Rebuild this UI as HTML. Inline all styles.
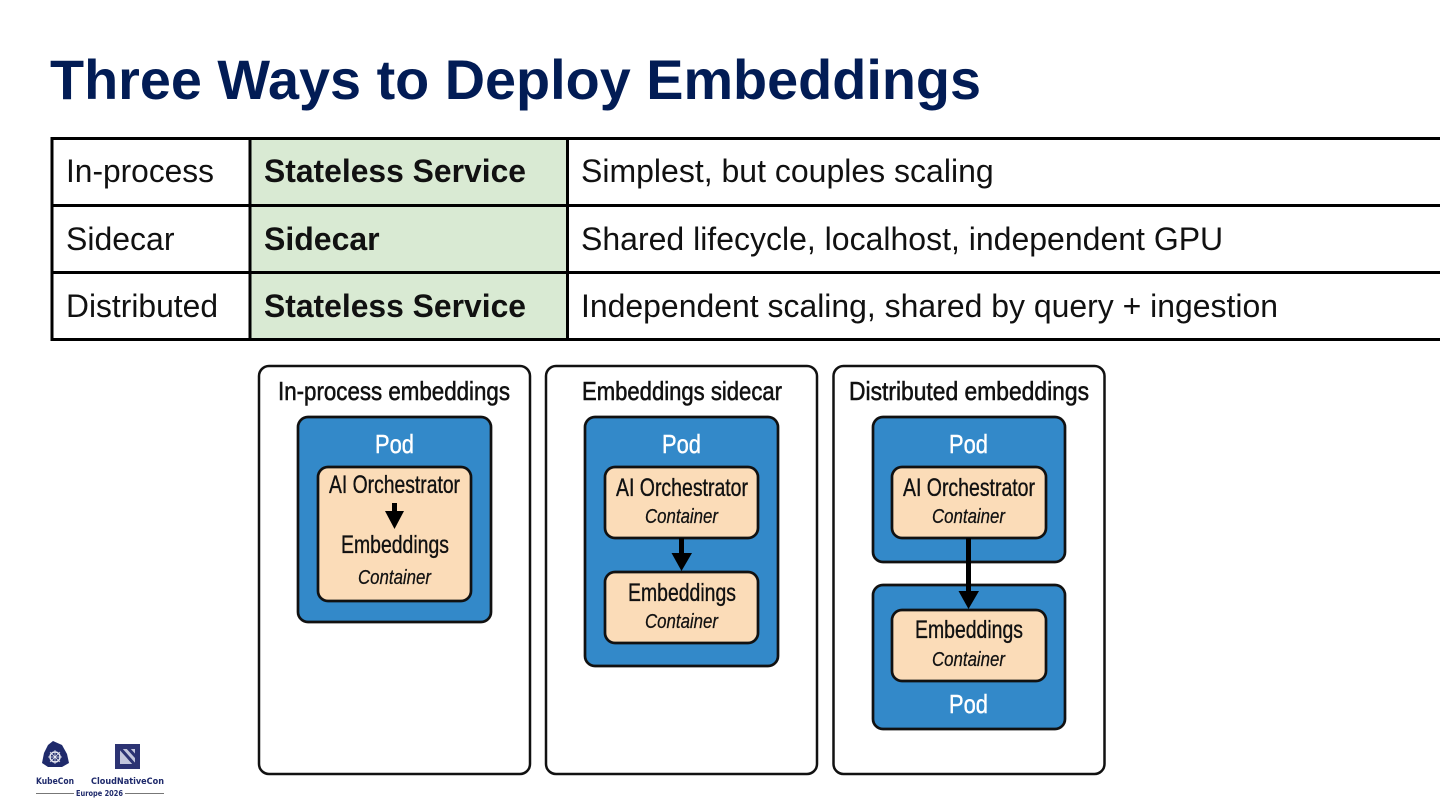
<!DOCTYPE html>
<html>
<head>
<meta charset="utf-8">
<style>
html,body{margin:0;padding:0;background:#fff;width:1440px;height:810px;overflow:hidden}
svg{display:block}
text{font-family:"Liberation Sans",sans-serif}
.h{font-size:26px;fill:#111;stroke:#111;stroke-width:.55px}
.c{font-size:25px;fill:#111;stroke:#111;stroke-width:.35px}
.i{font-size:20px;font-style:italic;fill:#111;stroke:#111;stroke-width:.25px}
.p{font-size:26px;fill:#fff;stroke:#fff;stroke-width:.4px}
.t{font-size:32px;fill:#111}
.b{font-size:32px;font-weight:bold;fill:#111}
.card{fill:#fff;stroke:#111;stroke-width:2.5}
.pod{fill:#3389c9;stroke:#111;stroke-width:2.7}
.box{fill:#fbdcb8;stroke:#111;stroke-width:2.7}
.l{font-family:"DejaVu Sans",sans-serif;font-weight:bold;fill:#1f2a6b}
</style>
</head>
<body>
<svg width="1440" height="810" viewBox="0 0 1440 810" xmlns="http://www.w3.org/2000/svg">
<rect width="1440" height="810" fill="#fff"/>
<text x="50" y="99" font-size="56" font-weight="bold" fill="#021c55" textLength="931" lengthAdjust="spacingAndGlyphs">Three Ways to Deploy Embeddings</text>

<rect x="250" y="138" width="317" height="202" fill="#d9ead3"/>
<g stroke="#000" stroke-width="3" fill="none">
<path d="M50.500 138.500H1440M50.500 205.500H1440M50.500 272.500H1440M50.500 339.500H1440"/>
<path d="M52 137V341M250 137V341M567.500 137V341"/>
</g>
<text class="t" x="66" y="182" textLength="148" lengthAdjust="spacingAndGlyphs">In-process</text>
<text class="t" x="66" y="250">Sidecar</text>
<text class="t" x="66" y="317" textLength="152" lengthAdjust="spacingAndGlyphs">Distributed</text>
<text class="b" x="264" y="182" textLength="262" lengthAdjust="spacingAndGlyphs">Stateless Service</text>
<text class="b" x="264" y="250">Sidecar</text>
<text class="b" x="264" y="317" textLength="262" lengthAdjust="spacingAndGlyphs">Stateless Service</text>
<text class="t" x="581" y="182">Simplest, but couples scaling</text>
<text class="t" x="581" y="250">Shared lifecycle, localhost, independent GPU</text>
<text class="t" x="581" y="317" textLength="697" lengthAdjust="spacingAndGlyphs">Independent scaling, shared by query + ingestion</text>

<rect class="card" x="259" y="366" width="271" height="408" rx="10"/>
<rect class="card" x="546" y="366" width="271" height="408" rx="10"/>
<rect class="card" x="833.500" y="366" width="271" height="408" rx="10"/>

<text class="h" x="278" y="400" textLength="232" lengthAdjust="spacingAndGlyphs">In-process embeddings</text>
<text class="h" x="582" y="400" textLength="200" lengthAdjust="spacingAndGlyphs">Embeddings sidecar</text>
<text class="h" x="849" y="400" textLength="240" lengthAdjust="spacingAndGlyphs">Distributed embeddings</text>

<rect class="pod" x="298" y="417" width="193" height="205" rx="10"/>
<rect class="box" x="318" y="467" width="153" height="134" rx="10"/>
<text class="p" x="375" y="453" textLength="39" lengthAdjust="spacingAndGlyphs">Pod</text>
<text class="c" x="329" y="493" textLength="131" lengthAdjust="spacingAndGlyphs">AI Orchestrator</text>
<path d="M394.500 503V513" stroke="#000" stroke-width="5"/>
<path d="M385 511H404L394.500 529Z" fill="#000"/>
<text class="c" x="341" y="553" textLength="108" lengthAdjust="spacingAndGlyphs">Embeddings</text>
<text class="i" x="358" y="584" textLength="73" lengthAdjust="spacingAndGlyphs">Container</text>

<rect class="pod" x="585" y="417" width="193" height="249" rx="10"/>
<text class="p" x="662" y="453" textLength="39" lengthAdjust="spacingAndGlyphs">Pod</text>
<rect class="box" x="605" y="467" width="153" height="71" rx="10"/>
<rect class="box" x="605" y="572" width="153" height="71" rx="10"/>
<text class="c" x="616" y="496" textLength="132" lengthAdjust="spacingAndGlyphs">AI Orchestrator</text>
<text class="i" x="645" y="523" textLength="73" lengthAdjust="spacingAndGlyphs">Container</text>
<path d="M681.500 538V556" stroke="#000" stroke-width="5"/>
<path d="M671.500 553H692L681.500 571Z" fill="#000"/>
<text class="c" x="628" y="601" textLength="108" lengthAdjust="spacingAndGlyphs">Embeddings</text>
<text class="i" x="645" y="628" textLength="73" lengthAdjust="spacingAndGlyphs">Container</text>

<rect class="pod" x="873" y="417" width="192" height="145" rx="10"/>
<text class="p" x="949" y="453" textLength="39" lengthAdjust="spacingAndGlyphs">Pod</text>
<rect class="box" x="892" y="467" width="154" height="71" rx="10"/>
<text class="c" x="903" y="496" textLength="132" lengthAdjust="spacingAndGlyphs">AI Orchestrator</text>
<text class="i" x="932" y="523" textLength="73" lengthAdjust="spacingAndGlyphs">Container</text>
<rect class="pod" x="873" y="585" width="192" height="144" rx="10"/>
<rect class="box" x="892" y="610" width="154" height="71" rx="10"/>
<path d="M968.500 538V595" stroke="#000" stroke-width="5"/>
<path d="M958.500 591H979L968.500 609Z" fill="#000"/>
<text class="c" x="915" y="638" textLength="108" lengthAdjust="spacingAndGlyphs">Embeddings</text>
<text class="i" x="932" y="666" textLength="73" lengthAdjust="spacingAndGlyphs">Container</text>
<text class="p" x="949" y="713" textLength="39" lengthAdjust="spacingAndGlyphs">Pod</text>

<path d="M53 741L62 745L67 754L69 763L62 767H48L42 763L44 753L48 745Z" fill="#1f2a6b"/>
<circle cx="55" cy="757" r="5" fill="none" stroke="#e6e7f0" stroke-width="1.500"/>
<path d="M55 750V764M48 757H62M50 752L60 762M60 752L50 762" stroke="#e6e7f0" stroke-width=".8"/>
<rect x="115" y="744" width="25" height="25" fill="#2c3373"/>
<path d="M120 749H135V764H120Z" fill="#c3c6dc"/>
<path d="M119 747L136 766M127 747L137 758" stroke="#2c3373" stroke-width="3" fill="none"/>
<text class="l" x="36" y="784" font-size="8.500" textLength="38" lengthAdjust="spacingAndGlyphs">KubeCon</text>
<text class="l" x="91" y="784" font-size="8.500" textLength="73" lengthAdjust="spacingAndGlyphs">CloudNativeCon</text>
<path d="M36 793.500H74M125 793.500H164" stroke="#777" stroke-width="1"/>
<text class="l" x="76" y="796" font-size="7.500" textLength="47" lengthAdjust="spacingAndGlyphs">Europe 2026</text>
</svg>
</body>
</html>
